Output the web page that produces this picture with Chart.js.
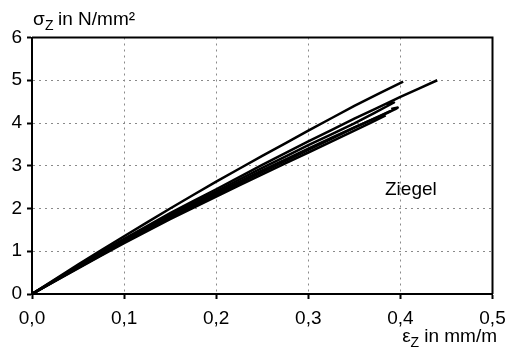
<!DOCTYPE html>
<html>
<head>
<meta charset="utf-8">
<script src="https://cdn.jsdelivr.net/npm/chart.js@4"></script>
<style>
  body { margin: 0; background: #fff; }
  #wrap { width: 505px; height: 351px; }
</style>
</head>
<body>
<div id="wrap"><canvas id="myChart" width="505" height="351"></canvas></div>
<script>
// Dehnung (mm/m) und Spannung (N/mm²) der einzelnen Versuche
const epsA = [0, 0.05, 0.10, 0.15, 0.20, 0.25, 0.30, 0.35, 0.403];
const sigA = [0, 0.69, 1.35, 2.00, 2.63, 3.23, 3.82, 4.40, 4.97];

const epsB = [0, 0.05, 0.10, 0.15, 0.20, 0.25, 0.30, 0.35, 0.40, 0.44];
const sigB = [0, 0.66, 1.29, 1.89, 2.45, 3.02, 3.57, 4.10, 4.61, 5.00];

const epsC1 = [0, 0.05, 0.10, 0.15, 0.20, 0.25, 0.30, 0.35, 0.393, 0.385];
const sigC1 = [0, 0.64, 1.26, 1.85, 2.40, 2.95, 3.48, 3.99, 4.48, 4.42];

const epsC2 = [0, 0.05, 0.10, 0.15, 0.20, 0.25, 0.30, 0.35, 0.38, 0.397, 0.39];
const sigC2 = [0, 0.62, 1.23, 1.81, 2.36, 2.89, 3.40, 3.90, 4.18, 4.36, 4.33];

const epsC3 = [0, 0.05, 0.10, 0.15, 0.20, 0.25, 0.30, 0.35, 0.389];
const sigC3 = [0, 0.61, 1.21, 1.78, 2.32, 2.85, 3.37, 3.89, 4.28];

const epsC4 = [0, 0.05, 0.10, 0.15, 0.20, 0.25, 0.30, 0.35, 0.384];
const sigC4 = [0, 0.60, 1.19, 1.75, 2.28, 2.80, 3.31, 3.82, 4.18];

const xTicks = [0, 0.1, 0.2, 0.3, 0.4, 0.5];
const yTicks = [0, 1, 2, 3, 4, 5, 6];
const material = "Ziegel";

const font = "Liberation Sans, Arial, sans-serif";

function toPoints(xs, ys) {
  return xs.map((x, i) => ({ x: x, y: ys[i] }));
}

function serie(xs, ys) {
  return {
    data: toPoints(xs, ys),
    showLine: true,
    borderColor: "#000",
    borderWidth: 2.5,
    pointRadius: 0,
    tension: 0.1,
  };
}

// Rahmen, Achsentitel und Beschriftung
const extras = {
  id: "extras",
  afterDraw(chart) {
    const c = chart.ctx;
    const a = chart.chartArea;
    c.save();
    c.strokeStyle = "#000";
    c.lineWidth = 2;
    c.beginPath();
    c.moveTo(a.left, a.top);
    c.lineTo(a.right, a.top);
    c.lineTo(a.right, a.bottom);
    c.stroke();

    c.fillStyle = "#000";
    c.textBaseline = "alphabetic";
    c.textAlign = "left";
    // y-Titel
    c.font = "19px " + font;
    c.fillText("σ", 33, 25);
    c.font = "14px " + font;
    c.fillText("Z", 45, 30);
    c.font = "19px " + font;
    c.fillText("in N/mm²", 58, 25);
    // x-Titel
    c.textAlign = "right";
    c.fillText("in mm/m", 497, 342);
    let w = c.measureText("in mm/m").width;
    c.font = "14px " + font;
    c.fillText("Z", 497 - w - 5, 347);
    let wz = c.measureText("Z").width;
    c.font = "19px " + font;
    c.fillText("ε", 497 - w - 5 - wz, 342);
    // Material
    c.textAlign = "left";
    c.fillText(material, 385, 195);
    c.restore();
  },
};

const myChart = document.getElementById("myChart");
new Chart(myChart, {
  type: "scatter",
  data: {
    datasets: [
      serie(epsA, sigA),
      serie(epsB, sigB),
      serie(epsC1, sigC1),
      serie(epsC2, sigC2),
      serie(epsC3, sigC3),
      serie(epsC4, sigC4),
    ],
  },
  options: {
    responsive: false,
    animation: false,
    layout: { padding: { top: 37.5, right: 12.5, left: 0, bottom: 0 } },
    plugins: { legend: { display: false }, tooltip: { enabled: false } },
    scales: {
      x: {
        type: "linear",
        min: 0,
        max: 0.5,
        afterBuildTicks: (s) => { s.ticks = xTicks.map((v) => ({ value: v })); },
        afterFit: (s) => {
          s.height = 57;
          s.paddingLeft = 0;
          s.paddingRight = 0;
        },
        ticks: {
          color: "#000",
          font: { family: font, size: 19 },
          padding: 8,
          maxRotation: 0,
          callback: (v) => v.toFixed(1).replace(".", ","),
        },
        grid: {
          color: (ctx) => (ctx.index === 0 || ctx.index === xTicks.length - 1 ? "rgba(0,0,0,0)" : "#8a8a8a"),
          lineWidth: 1,
          tickLength: 5,
          tickColor: "#000",
          tickWidth: 2,
          tickBorderDash: [],
        },
        border: { color: "#000", width: 2, dash: [2, 4] },
      },
      y: {
        type: "linear",
        min: 0,
        max: 6,
        afterBuildTicks: (s) => { s.ticks = yTicks.map((v) => ({ value: v })); },
        afterFit: (s) => {
          s.width = 32;
          s.paddingTop = 0;
          s.paddingBottom = 0;
        },
        ticks: {
          color: "#000",
          font: { family: font, size: 19 },
          padding: 5,
          callback: (v) => String(v),
        },
        grid: {
          color: (ctx) => (ctx.index === 0 || ctx.index === yTicks.length - 1 ? "rgba(0,0,0,0)" : "#8a8a8a"),
          lineWidth: 1,
          tickLength: 5,
          tickColor: "#000",
          tickWidth: 2,
          tickBorderDash: [],
        },
        border: { color: "#000", width: 2, dash: [2, 4] },
      },
    },
  },
  plugins: [extras],
});
</script>
</body>
</html>
